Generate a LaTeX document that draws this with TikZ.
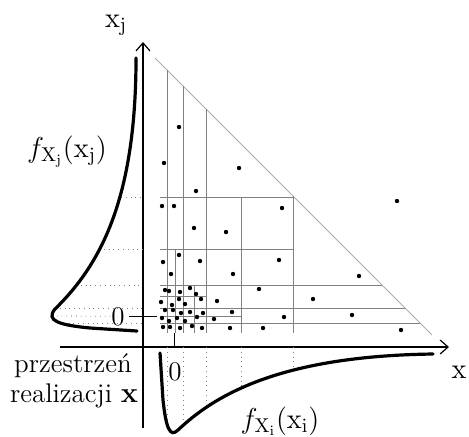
\documentclass[tikz,border=0pt]{standalone}
\usepackage{tikz}
\usetikzlibrary{arrows.meta}
\definecolor{gridgray}{gray}{0.5}
\definecolor{hypgray}{gray}{0.68}
\begin{document}
\begin{tikzpicture}[x=0.5pt,y=-0.5pt,
  grid/.style={gridgray, line width=0.4pt},
  proj/.style={gridgray, dotted, line width=0.4pt},
  dens/.style={line width=1.6pt, line cap=round},
  axis/.style={line width=0.6pt, -{Straight Barb[length=4pt,width=7pt]}},
  lab/.style={font=\fontsize{14.4}{17}\selectfont, inner sep=0pt, anchor=base},
  txt/.style={font=\fontsize{13.5}{15}\selectfont, inner sep=0pt, anchor=base},
  dot/.style={circle, fill, inner sep=0pt, minimum size=2.2pt}]
\useasboundingbox (0,0) rectangle (469,436);

% axes
\coordinate (xstart) at (60,347);
\coordinate (xend) at (449,347);
\coordinate (ystart) at (143,428);
\coordinate (yend) at (143,42);
\draw[axis] (xstart) -- (xend);
\draw[axis] (ystart) -- (yend);
\node[lab] (xjlab) at (116,27) {$\mathrm{x}_\mathrm{j}$};
\node[lab] (xlab) at (459,378) {$\mathrm{x}$};

% zero ticks
\node[txt] (zeroj) at (118,325) {0};
\node[txt] (zeroi) at (175,380) {0};
\draw (129,316) -- (157,316);
\draw (174,333) -- (174,347);

% triangle and cells
\draw[hypgray, line width=0.4pt] (155,58) -- (432,335);
\draw[grid] (167,70) -- (167,333);
\draw[grid] (183,86) -- (183,333);
\draw[grid] (206,109) -- (206,333);
\draw[grid] (241,197) -- (241,333);
\draw[grid] (293,196) -- (293,333);
\draw[grid] (175,249) -- (175,333);
\draw[grid] (194,285) -- (194,333);
\draw[grid] (160,197) -- (293,197);
\draw[grid] (160,249) -- (293,249);
\draw[grid] (160,285) -- (382,285);
\draw[grid] (160,296) -- (206,296);
\draw[grid] (160,308) -- (405,308);
\draw[grid] (160,316) -- (241,316);
\draw[grid] (160,323) -- (420,323);

% projections onto the densities
\draw[proj] (121,197) -- (143,197);
\draw[proj] (99,249) -- (143,249);
\draw[proj] (76,285) -- (143,285);
\draw[proj] (55,308) -- (143,308);
\draw[proj] (52,316) -- (zeroj.west);
\draw[proj] (59,323) -- (143,323);
\draw[proj] (167,347) -- (167,427);
\draw[proj] (183,347) -- (183,424);
\draw[proj] (206,347) -- (206,408);
\draw[proj] (241,347) -- (241,388);
\draw[proj] (293,347) -- (293,370);

% densities
\draw[dens] (136,58) .. controls (136,200) and (100,265) .. (55,309)
  .. controls (45,321) and (60,325) .. (90,328) -- (137,331);
\draw[dens] (160,353) -- (163,400) .. controls (166,428) and (170,438) .. (178,430)
  .. controls (215,395) and (280,356) .. (433,354);
\node[lab] (fxj) at (67,157) {$f_{\mathrm{X}_\mathrm{j}}(\mathrm{x}_\mathrm{j})$};
\node[lab] (fxi) at (280,428) {$f_{\mathrm{X}_\mathrm{i}}(\mathrm{x}_\mathrm{i})$};

% samples
\foreach \p in {(179,127),(164,163),(239,168),(196,191),(397,201),(162,206),(174,206),
  (282,208),(194,228),(226,232),(179,255),(163,262),(200,261),(279,260),(171,274),
  (233,274),(359,276),(259,289),(313,299),(217,301),(232,312),(284,317),(352,315),
  (214,319),(230,328),(263,328),(401,330),
  (165,290),(169,291),(180,292),(190,288),(196,294),(201,299),(161,302),(172,305),
  (179,299),(185,304),(165,310),(173,310),(181,313),(190,312),(203,313),(162,318),
  (177,318),(169,321),(185,321),(197,317),(163,327),(170,327),(180,328),(192,326),
  (202,328)}
  \node[dot] at \p {};

\node[txt] (space1) at (73,372) {przestrze\'n};
\node[txt] (space2) at (74,402) {realizacji $\mathbf{x}$};
\end{tikzpicture}
\end{document}
